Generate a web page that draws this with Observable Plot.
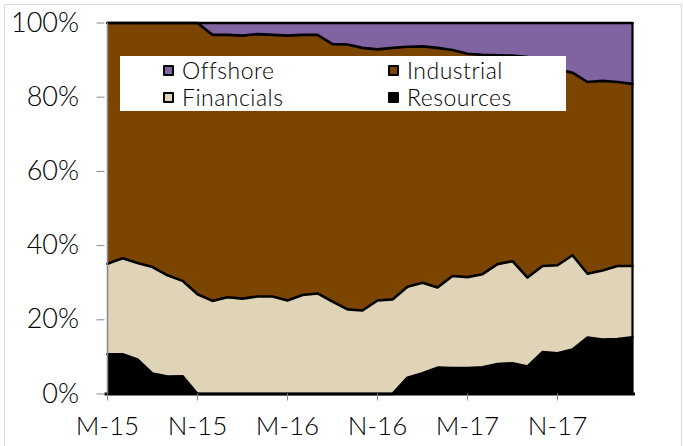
<!DOCTYPE html>
<html>
<head>
<meta charset="utf-8">
<script src="https://cdn.jsdelivr.net/npm/d3@7"></script>
<script src="https://cdn.jsdelivr.net/npm/@observablehq/plot@0.6"></script>
<style>
  html, body { margin: 0; padding: 0; background: #fff; }
  #wrap { position: relative; width: 683px; height: 446px; overflow: hidden; font-family: "Lato", "DejaVu Sans", sans-serif; }
  #border { position: absolute; left: 4px; top: 4px; width: 678px; height: 460px; border: 1px solid #d9d9d9; box-sizing: border-box; pointer-events: none; }
  #legend { position: absolute; left: 120px; top: 56px; width: 446px; height: 55px; background: #fff; }
  .item { position: absolute; display: flex; align-items: center; font-size: 23px; font-weight: 300; letter-spacing: 0.5px; color: #000; line-height: 1; }
  .sw { width: 7px; height: 7px; border: 2px solid #000; margin-right: 8px; border-radius: 1px; }
  svg { position: absolute; left: 0; top: 0; }
  svg text { font-weight: 300; fill: #000; }
</style>
</head>
<body>
<div id="wrap"></div>
<script>
const months = ["2015-05","2015-06","2015-07","2015-08","2015-09","2015-10","2015-11","2015-12",
  "2016-01","2016-02","2016-03","2016-04","2016-05","2016-06","2016-07","2016-08","2016-09","2016-10","2016-11","2016-12",
  "2017-01","2017-02","2017-03","2017-04","2017-05","2017-06","2017-07","2017-08","2017-09","2017-10","2017-11","2017-12",
  "2018-01","2018-02","2018-03","2018-04"];

const resources = [10.7,10.7,9.3,5.5,4.7,4.8,0,0,0,0,0,0,0,0,0,0,0,0,0,0,
  4.4,5.6,7.1,7.0,7.0,7.2,8.1,8.3,7.4,11.3,11.0,12.0,15.2,14.7,14.8,15.3];
const financials = [24.4,25.9,26.0,28.7,27.3,25.7,26.9,25.1,26.1,25.7,26.3,26.3,25.2,26.7,27.1,24.9,22.8,22.5,25.2,25.5,
  24.5,24.4,21.6,24.8,24.5,25.1,26.9,27.5,24.0,23.2,23.7,25.4,17.2,18.6,19.7,19.2];
const industrial = [64.9,63.4,64.7,65.8,68.0,69.5,73.1,71.7,70.7,70.9,70.7,70.5,71.4,70.1,69.7,69.4,71.4,70.8,67.7,67.8,
  64.7,63.7,64.6,60.9,60.2,59.1,56.3,55.4,59.4,55.0,52.8,49.2,51.7,51.1,49.6,49.1];
const offshore = [0,0,0,0,0,0,0,3.2,3.2,3.4,3.0,3.2,3.4,3.2,3.2,5.7,5.8,6.7,7.1,6.7,
  6.4,6.3,6.7,7.3,8.3,8.6,8.7,8.8,9.2,10.5,12.5,13.4,15.9,15.6,15.9,16.4];

const seriesNames = ["Resources", "Financials", "Industrial", "Offshore"];
const seriesColors = ["#000000", "#e0d4b8", "#7b4500", "#8064a2"];
const tickMonths = ["2015-05","2015-11","2016-05","2016-11","2017-05","2017-11"];
const tickLabels = ["M-15","N-15","M-16","N-16","M-17","N-17"];
const yTicks = [0, 20, 40, 60, 80, 100];

const seriesValues = [resources, financials, industrial, offshore];
const data = [];
seriesNames.forEach((s, k) => months.forEach((m, i) => data.push({month: m, series: s, value: seriesValues[k][i]})));

const last = months[months.length - 1];

const chart = Plot.plot({
  width: 683,
  height: 446,
  marginLeft: 104.5,
  marginRight: 48,
  marginTop: 22.5,
  marginBottom: 52.5,
  style: {fontFamily: "Lato, sans-serif", fontSize: "26px", color: "#000", background: "transparent"},
  x: {type: "point", domain: months, padding: 0, label: null},
  y: {domain: [0, 100], label: null},
  color: {domain: seriesNames, range: seriesColors},
  marks: [
    Plot.areaY(data, {x: "month", y: "value", z: "series", fill: "series", order: seriesNames}),
    Plot.lineY(data, Plot.stackY2({x: "month", y: "value", z: "series", order: seriesNames, stroke: "#000", strokeWidth: 2.6})),
    Plot.ruleX([last], {stroke: "#000", strokeWidth: 2.2}),
    Plot.ruleY([0], {stroke: "#000", strokeWidth: 3}),
    Plot.axisY({ticks: yTicks, tickFormat: d => d + "%", tickSize: 8, tickPadding: 18, stroke: "#888", fontSize: 27}),
    Plot.ruleX([months[0]], {stroke: "#888", strokeWidth: 1.5}),
    Plot.axisX({ticks: tickMonths, tickFormat: d => tickLabels[tickMonths.indexOf(d)], tickSize: 7, tickPadding: 16, stroke: "#888", fontSize: 26})
  ]
});

const wrap = document.getElementById("wrap");
wrap.appendChild(chart);
const border = document.createElement("div");
border.id = "border";
wrap.appendChild(border);

const legend = document.createElement("div");
legend.id = "legend";
const legendItems = [
  {name: "Offshore", left: 43, top: 3},
  {name: "Industrial", left: 268, top: 3},
  {name: "Financials", left: 43, top: 30},
  {name: "Resources", left: 268, top: 30}
];
legendItems.forEach(it => {
  const el = document.createElement("div");
  el.className = "item";
  el.style.left = it.left + "px";
  el.style.top = it.top + "px";
  const sw = document.createElement("div");
  sw.className = "sw";
  sw.style.background = seriesColors[seriesNames.indexOf(it.name)];
  el.appendChild(sw);
  const t = document.createElement("span");
  t.textContent = it.name;
  el.appendChild(t);
  legend.appendChild(el);
});
wrap.appendChild(legend);
</script>
</body>
</html>
